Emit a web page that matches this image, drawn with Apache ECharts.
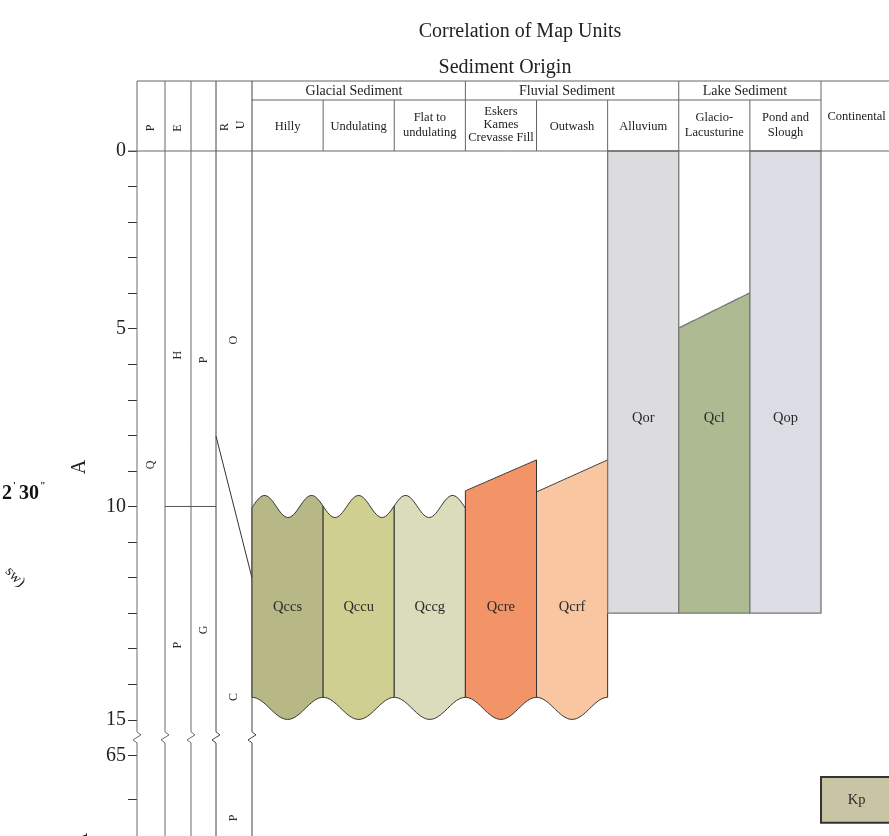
<!DOCTYPE html>
<html>
<head>
<meta charset="utf-8">
<script src="https://cdn.jsdelivr.net/npm/echarts@6/dist/echarts.min.js"></script>
<style>
  html, body { margin: 0; padding: 0; background: #ffffff; }
  #chart { width: 889px; height: 836px; }
</style>
</head>
<body>
<div id="chart"></div>
<script>
// ---- Map units (ages in ka along the age axis) ----
const unitNames       = ['Qccs', 'Qccu', 'Qccg', 'Qcre', 'Qcrf', 'Qor', 'Qcl', 'Qop', 'Kp'];
const unitColumn      = [0, 1, 2, 3, 4, 5, 6, 7, 8];
const unitTopLeft     = [10, 10, 10, 9.56, 9.59, 0, 4.98, 0, 17.61];
const unitTopRight    = [10, 10, 10, 8.69, 8.69, 0, 3.99, 0, 17.61];
const unitBase        = [15.68, 15.68, 15.68, 15.68, 15.68, 13, 13, 13, 18.9];
const unitTopContact  = ['wavy', 'wavy', 'wavy', 'sloped', 'sloped', 'flat', 'sloped', 'flat', 'flat'];
const unitBaseContact = ['wavy', 'wavy', 'wavy', 'wavy', 'wavy', 'flat', 'flat', 'flat', 'flat'];

// ---- Age axis ticks and labels ----
const ageTickValues  = [0, 1, 2, 3, 4, 5, 6, 7, 8, 9, 10, 11, 12, 13, 14, 15, 16, 17, 18.24];
const ageLabelValues = [0, 5, 10, 16, 17];
const ageLabelText   = ['0', '5', '10', '15', '65'];

// ---- Time-stratigraphic columns (letters and boundaries) ----
const chronoLetters      = ['Q', 'C', 'H', 'P', 'P', 'G', 'O', 'C', 'P'];
const chronoLetterColumn = [0, 0, 1, 1, 2, 2, 3, 3, 3];
const chronoLetterAge    = [8.83, 19.45, 5.74, 13.9, 5.88, 13.47, 5.32, 15.36, 18.76];
const epochBoundaryAge   = 10;
const ruBoundaryTop      = 8.02;
const ruBoundaryBase     = 12.01;
const breakAge           = 16.51;

// ---- Header text ----
const headerLetters  = ['P', 'E', 'R', 'U'];
const groupNames     = ['Glacial Sediment', 'Fluvial Sediment', 'Lake Sediment'];
const columnNames    = ['Hilly', 'Undulating', 'Flat to\nundulating', 'Eskers\nKames\nCrevasse Fill',
                        'Outwash', 'Alluvium', 'Glacio-\nLacusturine', 'Pond and\nSlough', 'Continental'];

// ---- Layout & style ----
const SERIF = '"Liberation Serif", "Times New Roman", serif';
const GRID_LEFT = 137, GRID_TOP = 151;
const COL0_PX = 252, COL_W = 71.125;
const X_MIN = (GRID_LEFT - COL0_PX) / COL_W;
const X_MAX = (889 - COL0_PX) / COL_W;
const AGE_MAX = 19.27;
const colPx = k => COL0_PX + k * COL_W;
const pxToCol = px => (px - COL0_PX) / COL_W;
const chronoEdgesPx = [137, 165, 191, 216, 252];
const chronoCentersPx = [151, 178, 203.5, 234];

const unitFill = ['#b8b886', '#cfcf91', '#dadcbc', '#f39468', '#f8c6a1', '#dcdcdf', '#aebb92', '#dcdce5', '#c8c4a4'];
const unitStroke = ['#333', '#333', '#333', '#333', '#333', '#777', '#777', '#777', '#333'];
const unitStrokeW = [1, 1, 1, 1, 1, 1.3, 1.3, 1.3, 2];
const unitLabelAge = [12.84, 12.84, 12.84, 12.84, 12.84, 7.51, 7.51, 7.51, 18.26];

const WAVE_AMP = 0.31;          // contact wave amplitude (axis units)
const TOP_WAVE_PERIOD = 0.661;  // in column widths
const TOP_WAVE_PHASE = 0.176;
const BASE_WAVE_PERIOD = 1;

function renderUnit(params, api) {
  const i = api.value(4);
  const c = api.value(0);
  const n = 48;
  const pts = [];
  for (let k = 0; k <= n; k++) {
    const x = c + k / n;
    let v;
    if (unitTopContact[i] === 'wavy') {
      v = unitTopLeft[i] - WAVE_AMP * Math.cos(2 * Math.PI * (x - TOP_WAVE_PHASE) / TOP_WAVE_PERIOD);
    } else {
      v = unitTopLeft[i] + (unitTopRight[i] - unitTopLeft[i]) * k / n;
    }
    pts.push(api.coord([x, v]));
  }
  for (let k = n; k >= 0; k--) {
    const x = c + k / n;
    let v = unitBase[i];
    if (unitBaseContact[i] === 'wavy') {
      v = unitBase[i] - WAVE_AMP * Math.cos(2 * Math.PI * x / BASE_WAVE_PERIOD);
    }
    pts.push(api.coord([x, v]));
  }
  const lp = api.coord([c + 0.5, unitLabelAge[i]]);
  return {
    type: 'group',
    children: [
      { type: 'polygon', shape: { points: pts },
        style: { fill: unitFill[i], stroke: unitStroke[i], lineWidth: unitStrokeW[i], lineJoin: 'miter' } },
      { type: 'text', x: lp[0], y: lp[1],
        style: { text: unitNames[i], fill: '#2a2a2a', font: '14.5px ' + SERIF,
                 align: 'center', verticalAlign: 'middle' } }
    ]
  };
}

function renderChrono(params, api) {
  const children = [];
  const yTop = api.coord([0, 0])[1];
  const yBot = api.coord([0, AGE_MAX])[1];
  const yB = api.coord([0, breakAge])[1];
  chronoEdgesPx.forEach((px, i) => {
    const x = api.coord([pxToCol(px), 0])[0];
    children.push({
      type: 'polyline',
      shape: { points: [[x, yTop], [x, yB - 6], [x + 4, yB - 3], [x - 4, yB + 2], [x, yB + 5], [x, yBot]] },
      style: { stroke: i >= 3 ? '#444' : '#6a6a6a', lineWidth: 1, fill: null }
    });
  });
  // epoch boundary between H and P
  const e1 = api.coord([pxToCol(165), epochBoundaryAge]);
  const e2 = api.coord([pxToCol(216), epochBoundaryAge]);
  children.push({ type: 'line', shape: { x1: e1[0], y1: e1[1], x2: e2[0], y2: e2[1] },
                  style: { stroke: '#555', lineWidth: 1 } });
  // diachronous boundary in the rock-unit column
  const d1 = api.coord([pxToCol(216), ruBoundaryTop]);
  const d2 = api.coord([pxToCol(252), ruBoundaryBase]);
  children.push({ type: 'line', shape: { x1: d1[0], y1: d1[1], x2: d2[0], y2: d2[1] },
                  style: { stroke: '#333', lineWidth: 1 } });
  // letters
  chronoLetters.forEach((t, i) => {
    const p = api.coord([pxToCol(chronoCentersPx[chronoLetterColumn[i]]), chronoLetterAge[i]]);
    children.push({ type: 'text', x: p[0], y: p[1], rotation: Math.PI / 2,
      style: { text: t, fill: '#2a2a2a', font: '12px ' + SERIF, align: 'center', verticalAlign: 'middle' } });
  });
  return { type: 'group', children };
}

// ---- Header (table head) graphics ----
const graphics = [];
function hLine(x1, y1, x2, y2, color) {
  graphics.push({ type: 'line', shape: { x1, y1, x2, y2 }, style: { stroke: color || '#666', lineWidth: 1 }, z: 10 });
}
function label(text, x, y, size, extra) {
  graphics.push(Object.assign({ type: 'text', x, y, z: 11,
    style: { text, fill: '#222', font: size + 'px ' + SERIF, align: 'center', verticalAlign: 'middle',
             textAlign: 'center', textVerticalAlign: 'middle', lineHeight: size + 1.5 } }, extra || {}));
}
hLine(137, 81, 889, 81);
hLine(252, 100, 821, 100);
hLine(128, 151, 889, 151);
[137, 165, 191, 216, 252].forEach(x => hLine(x, 81, x, 151, x >= 216 ? '#444' : '#666'));
[1, 2, 4, 5, 7].forEach(k => hLine(colPx(k), 100, colPx(k), 151));
[3, 6, 8].forEach(k => hLine(colPx(k), 81, colPx(k), 151));

label('Correlation of Map Units', 520, 32, 20);
label('Sediment Origin', 505, 68, 20);

const groupCenters = [354, 567, 745];
groupNames.forEach((g, i) => label(g, groupCenters[i], 91.5, 14));
columnNames.forEach((t, k) => {
  const lines = t.split('\n').length;
  const y = k === 8 ? 116.5 : (lines === 3 ? 125 : (lines === 2 ? 125.5 : 127));
  const size = 12.5;
  graphics.push({ type: 'text', x: colPx(k + 0.5), y, z: 11,
    style: { text: t, fill: '#222', font: size + 'px ' + SERIF, align: 'center', verticalAlign: 'middle',
             textAlign: 'center', textVerticalAlign: 'middle', lineHeight: lines === 3 ? 13 : 15 } });
});
const headerLetterPos = [[151, 128], [178, 128], [225, 127], [241, 125]];
headerLetters.forEach((t, i) => label(t, headerLetterPos[i][0], headerLetterPos[i][1], 12, { rotation: Math.PI / 2 }));

// neighbouring map sheet lettering along the left margin
label('A', 80, 467, 20, { rotation: Math.PI / 2 });
label('A', 82, 840, 20, { rotation: Math.PI / 2 });
graphics.push({ type: 'text', x: 2, y: 494, z: 11,
  style: { text: '2', fill: '#111', font: 'bold 20px ' + SERIF, align: 'left', verticalAlign: 'middle' } });
graphics.push({ type: 'text', x: 13, y: 486, z: 11,
  style: { text: '\'', fill: '#111', font: 'bold 10px ' + SERIF, align: 'left', verticalAlign: 'middle' } });
graphics.push({ type: 'text', x: 19, y: 494, z: 11,
  style: { text: '30', fill: '#111', font: 'bold 20px ' + SERIF, align: 'left', verticalAlign: 'middle' } });
graphics.push({ type: 'text', x: 40, y: 486, z: 11,
  style: { text: '"', fill: '#111', font: 'bold 10px ' + SERIF, align: 'left', verticalAlign: 'middle' } });
label('sw)', 15, 577, 15, { rotation: -0.8 });

const chart = echarts.init(document.getElementById('chart'), null, { renderer: 'canvas' });
chart.setOption({
  animation: false,
  backgroundColor: '#ffffff',
  grid: { left: GRID_LEFT, top: GRID_TOP, right: 0, bottom: 0, containLabel: false, outerBoundsMode: 'none' },
  xAxis: { type: 'value', min: X_MIN, max: X_MAX, show: false },
  yAxis: {
    type: 'value', inverse: true, min: 0, max: AGE_MAX, position: 'left',
    axisLine: { show: false, onZero: false },
    splitLine: { show: false },
    axisTick: { show: true, length: 9, customValues: ageTickValues, lineStyle: { color: '#333', width: 1 } },
    axisLabel: {
      show: true, customValues: ageLabelValues, margin: 11, padding: [7, 0, 0, 0],
      formatter: v => { const j = ageLabelValues.indexOf(v); return j >= 0 ? ageLabelText[j] : ''; },
      fontFamily: SERIF, fontSize: 20, color: '#222'
    }
  },
  graphic: graphics,
  series: [
    {
      type: 'custom', name: 'chronostratigraphy', renderItem: renderChrono,
      data: [[0, 0]], encode: { x: 0, y: 1 }, z: 2, silent: true
    },
    {
      type: 'custom', name: 'map units', renderItem: renderUnit,
      data: unitNames.map((n, i) => [unitColumn[i], unitTopLeft[i], unitTopRight[i], unitBase[i], i]),
      encode: { x: 0, y: [1, 3] }, z: 3, silent: true
    }
  ]
});
</script>
</body>
</html>
